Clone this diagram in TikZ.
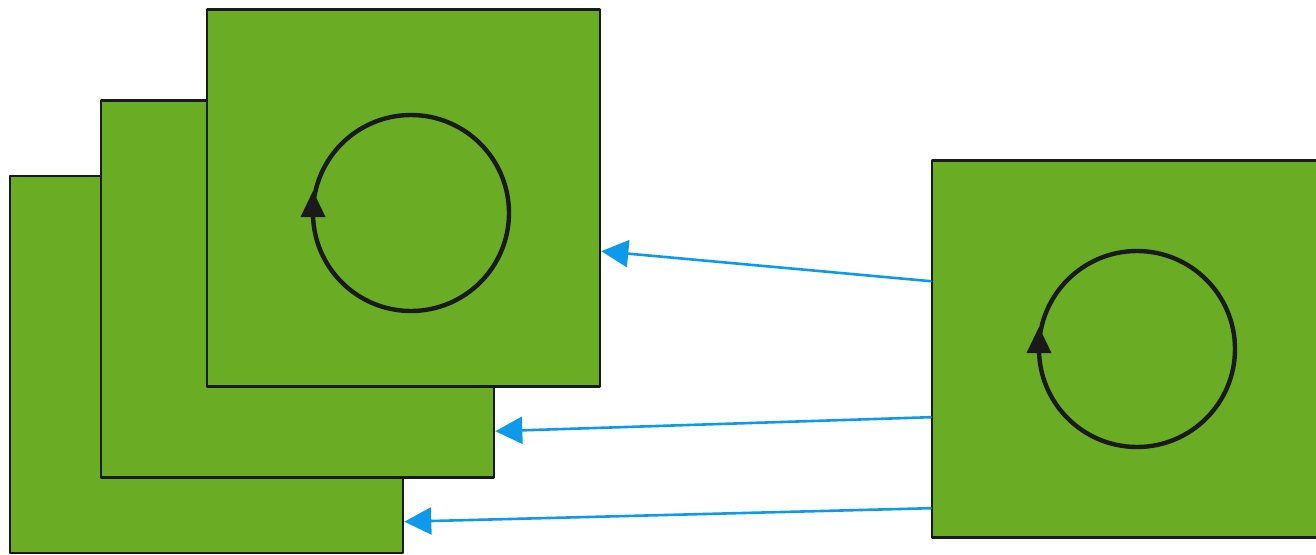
\documentclass[tikz,border=0pt]{standalone}
\usepackage{tikz}
\usetikzlibrary{arrows.meta,calc}
\definecolor{leaf}{HTML}{6AAD24}
\definecolor{wire}{HTML}{0E9AEA}
\definecolor{ink}{HTML}{1A1A1A}
\tikzstyle{every path}=[line cap=round,line join=round]
\tikzstyle{frame}=[draw=ink,fill=leaf,line width=2.6pt,minimum width=393pt,minimum height=377pt,inner sep=0pt]
\tikzstyle{feed}=[draw=wire,line width=2.6pt,-{Triangle[length=27pt,width=27pt]}]
\tikzstyle{spin}=[draw=ink,line width=4.4pt]
\tikzstyle{spintip}=[fill=ink,draw=none]

\begin{document}
\begin{tikzpicture}[x=1pt,y=-1pt]
\useasboundingbox (0,0) rectangle (1316,554);
    % stacked copies
    \node[frame] (back) at (206.5,364.5) {};
    \node[frame] (middle) at (297.5,289) {};
    \node[frame] (front) at (403.5,198) {};
    \draw[spin] (411,213) circle (98);
    \fill[spintip] (313,191)--(300.5,217)--(325.5,217)--cycle;
    % source
    \node[frame] (source) at (1128.5,349) {};
    \draw[spin] (1137,349) circle (98);
    \fill[spintip] (1039,327)--(1026.5,353)--(1051.5,353)--cycle;
    %
    \draw[feed] ($(source.north west)+(0,122)$)--($(front.north east)+(0,243)$);
    \draw[feed] ($(source.north west)+(0,258)$)--($(middle.north east)+(0,332)$);
    \draw[feed] ($(source.north west)+(0,349)$)--($(back.north east)+(0,347)$);
\end{tikzpicture}
\end{document}
